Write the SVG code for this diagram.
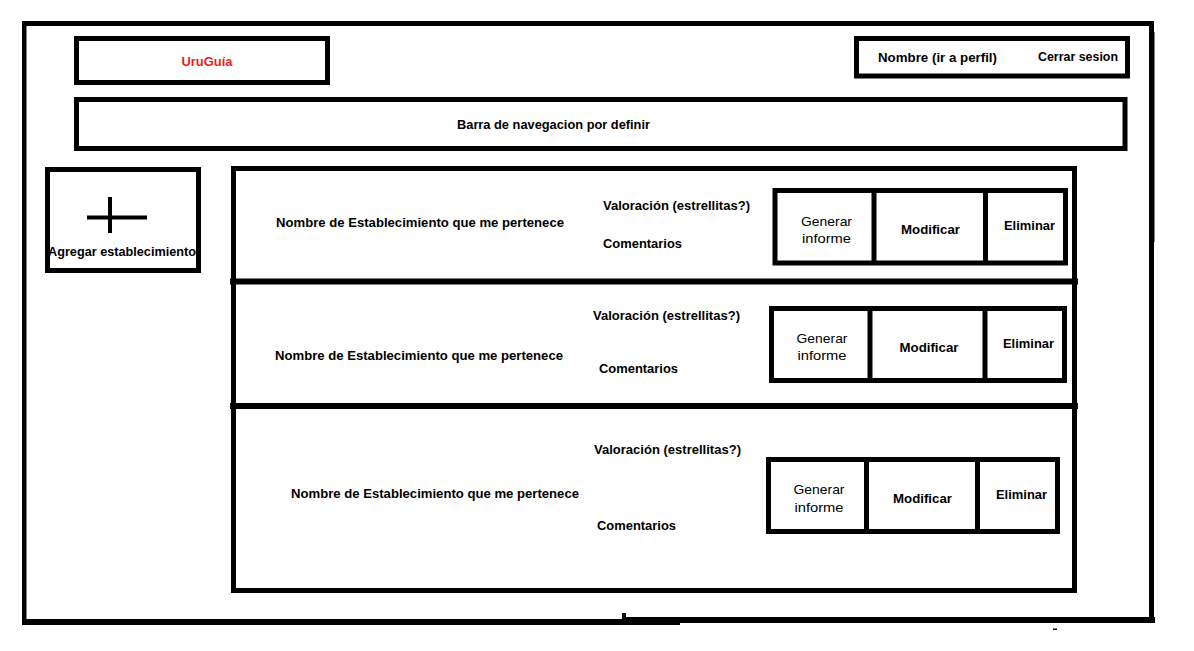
<svg xmlns="http://www.w3.org/2000/svg" width="1194" height="651" viewBox="0 0 1194 651">
<style>
.box{fill:none;stroke:#000;stroke-width:5}
.ln{stroke:#000;fill:none}
.t{font-family:"Liberation Sans",Arial,sans-serif;font-size:13px;font-weight:bold;fill:#000}
.r{font-family:"Liberation Sans",Arial,sans-serif;font-size:13.5px;font-weight:normal;fill:#000}
.m{text-anchor:middle}
.blk{fill:#000}
</style>
<rect x="0" y="0" width="1194" height="651" fill="#fff"/>
<g id="frame">
  <rect class="blk" x="22" y="21" width="1131" height="5"/>
  <rect class="blk" x="22" y="21" width="4.5" height="604"/>
  <rect class="blk" x="1149" y="21" width="5" height="602"/>
  <rect class="blk" x="1151" y="32" width="3.5" height="210"/>
  <rect class="blk" x="22" y="619" width="658" height="6"/>
  <rect class="blk" x="622" y="617" width="533" height="6"/>
  <rect class="blk" x="622" y="613" width="4" height="5"/>
  <rect class="blk" x="1053" y="628.5" width="4" height="1.5"/>
</g>
<g id="logo">
  <rect class="box" x="76.5" y="38.5" width="251" height="44"/>
  <text class="t m" x="207" y="66" fill="#ed1c24" style="fill:#ed1c24" textLength="51" lengthAdjust="spacingAndGlyphs">UruGuía</text>
</g>
<g id="perfil">
  <rect class="box" x="856.5" y="38.5" width="271" height="37.5"/>
  <text class="t" x="878" y="61.5" textLength="119" lengthAdjust="spacingAndGlyphs">Nombre (ir a perfil)</text>
  <text class="t" x="1038" y="60.5" textLength="80" lengthAdjust="spacingAndGlyphs">Cerrar sesion</text>
</g>
<g id="navbar">
  <rect class="box" x="76.5" y="99.5" width="1048.5" height="49"/>
  <text class="t" x="457" y="129" textLength="193" lengthAdjust="spacingAndGlyphs">Barra de navegacion por definir</text>
</g>
<g id="agregar">
  <rect class="box" x="47.5" y="169.5" width="151" height="101"/>
  <line class="ln" x1="87" y1="217.5" x2="147" y2="217.5" stroke-width="4"/>
  <line class="ln" x1="110" y1="197" x2="110" y2="233" stroke-width="4"/>
  <text class="t" x="48" y="255.5" textLength="148" lengthAdjust="spacingAndGlyphs">Agregar establecimiento</text>
</g>
<g id="lista">
  <rect class="box" x="233.5" y="168.5" width="841" height="422"/>
  <rect class="blk" x="230" y="278.5" width="848" height="6"/>
  <rect class="blk" x="230" y="403" width="848" height="6"/>
</g>
<g id="fila1">
  <text class="t" x="276" y="227" textLength="288" lengthAdjust="spacingAndGlyphs">Nombre de Establecimiento que me pertenece</text>
  <text class="t" x="603" y="210" textLength="147" lengthAdjust="spacingAndGlyphs">Valoración (estrellitas?)</text>
  <text class="t" x="603" y="247.5" textLength="79" lengthAdjust="spacingAndGlyphs">Comentarios</text>
  <rect class="box" x="775" y="190.5" width="290.5" height="72.5"/>
  <line class="ln" x1="874" y1="190.5" x2="874" y2="263" stroke-width="5"/>
  <line class="ln" x1="985.5" y1="190.5" x2="985.5" y2="263" stroke-width="5"/>
  <text class="r m" x="826.5" y="225.5" textLength="51" lengthAdjust="spacingAndGlyphs">Generar</text>
  <text class="r m" x="826.5" y="243" textLength="49" lengthAdjust="spacingAndGlyphs">informe</text>
  <text class="t m" x="930.5" y="234" textLength="59" lengthAdjust="spacingAndGlyphs">Modificar</text>
  <text class="t m" x="1029.5" y="230" textLength="51" lengthAdjust="spacingAndGlyphs">Eliminar</text>
</g>
<g id="fila2">
  <text class="t" x="275" y="359.5" textLength="288" lengthAdjust="spacingAndGlyphs">Nombre de Establecimiento que me pertenece</text>
  <text class="t" x="593" y="320" textLength="147" lengthAdjust="spacingAndGlyphs">Valoración (estrellitas?)</text>
  <text class="t" x="599" y="372.5" textLength="79" lengthAdjust="spacingAndGlyphs">Comentarios</text>
  <rect class="box" x="771.5" y="308.5" width="293" height="72"/>
  <line class="ln" x1="870" y1="308.5" x2="870" y2="380.5" stroke-width="5"/>
  <line class="ln" x1="985" y1="308.5" x2="985" y2="380.5" stroke-width="5"/>
  <text class="r m" x="822" y="342.5" textLength="51" lengthAdjust="spacingAndGlyphs">Generar</text>
  <text class="r m" x="822" y="360" textLength="49" lengthAdjust="spacingAndGlyphs">informe</text>
  <text class="t m" x="929" y="351.5" textLength="59" lengthAdjust="spacingAndGlyphs">Modificar</text>
  <text class="t m" x="1028.5" y="347.5" textLength="51" lengthAdjust="spacingAndGlyphs">Eliminar</text>
</g>
<g id="fila3">
  <text class="t" x="291" y="498" textLength="288" lengthAdjust="spacingAndGlyphs">Nombre de Establecimiento que me pertenece</text>
  <text class="t" x="594" y="453.5" textLength="147" lengthAdjust="spacingAndGlyphs">Valoración (estrellitas?)</text>
  <text class="t" x="597" y="529.5" textLength="79" lengthAdjust="spacingAndGlyphs">Comentarios</text>
  <rect class="box" x="768.5" y="459.5" width="289" height="72"/>
  <line class="ln" x1="866.5" y1="459.5" x2="866.5" y2="531.5" stroke-width="5"/>
  <line class="ln" x1="977.5" y1="459.5" x2="977.5" y2="531.5" stroke-width="5"/>
  <text class="r m" x="819" y="494" textLength="51" lengthAdjust="spacingAndGlyphs">Generar</text>
  <text class="r m" x="819" y="511.5" textLength="49" lengthAdjust="spacingAndGlyphs">informe</text>
  <text class="t m" x="922.5" y="502.5" textLength="59" lengthAdjust="spacingAndGlyphs">Modificar</text>
  <text class="t m" x="1021.5" y="499" textLength="51" lengthAdjust="spacingAndGlyphs">Eliminar</text>
</g>
<g id="connectors"></g>
</svg>
